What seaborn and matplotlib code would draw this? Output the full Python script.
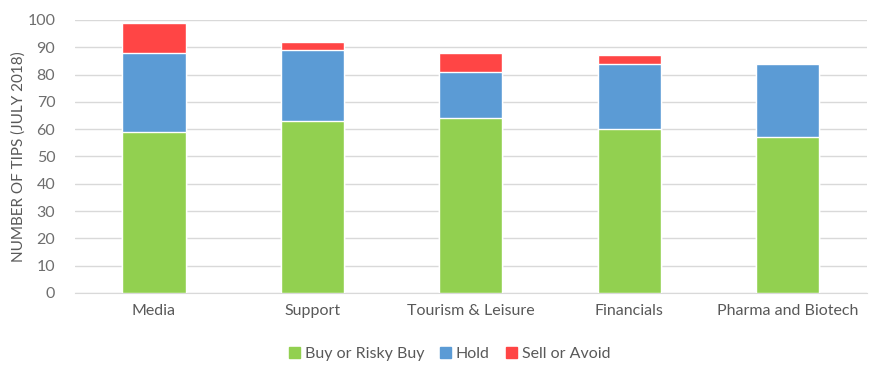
import numpy as np
import pandas as pd
import seaborn as sns
import matplotlib.pyplot as plt
from matplotlib.patches import Patch

# Data
sectors = ['Media', 'Support', 'Tourism & Leisure', 'Financials', 'Pharma and Biotech']
buy = [59, 63, 64, 60, 57]
hold = [29, 26, 17, 24, 27]
sell = [11, 3, 7, 3, 0]

green = '#92D050'
blue = '#5B9BD5'
red = '#FF4545'
grey = '#595959'

sns.set_style('white')
plt.rcParams['font.family'] = ['Lato', 'DejaVu Sans']

df = pd.DataFrame({'sector': sectors, 'buy': buy, 'hold': hold, 'sell': sell})
df['buy_hold'] = df['buy'] + df['hold']
df['total'] = df['buy_hold'] + df['sell']

fig = plt.figure(figsize=(8.9, 3.77), dpi=100)
ax = fig.add_axes([0.084, 0.223, 0.89, 0.724])

# stacked bars drawn from top of stack down
sns.barplot(data=df, x='sector', y='total', color=red, width=0.4, saturation=1, ax=ax, zorder=2)
sns.barplot(data=df, x='sector', y='buy_hold', color=blue, width=0.4, saturation=1, ax=ax, zorder=3)
sns.barplot(data=df, x='sector', y='buy', color=green, width=0.4, saturation=1, ax=ax, zorder=4)

ax.set_ylim(0, 100)
ax.set_yticks(np.arange(0, 101, 10))
ax.set_xlim(-0.5, len(sectors) - 0.5)
ax.yaxis.grid(True, color='#D9D9D9', linewidth=1)
ax.set_axisbelow(True)
for s in ['top', 'right', 'left']:
    ax.spines[s].set_visible(False)
ax.spines['bottom'].set_color('#D9D9D9')

ax.set_xlabel('')
ax.set_ylabel('NUMBER OF TIPS (JULY 2018)', color=grey, fontsize=11)
ax.yaxis.set_label_coords(-0.062, 0.5)
ax.tick_params(axis='both', colors=grey, labelsize=11.5, length=0)
ax.tick_params(axis='y', pad=14, colors='#6E6E6E')
ax.tick_params(axis='x', pad=8)

handles = [Patch(color=green, label='Buy or Risky Buy'),
           Patch(color=blue, label='Hold'),
           Patch(color=red, label='Sell or Avoid')]
leg = fig.legend(handles=handles, loc='center', bbox_to_anchor=(0.505, 0.06), ncol=3,
                 frameon=False, fontsize=11.5, handlelength=0.7, handleheight=0.7,
                 handletextpad=0.3, columnspacing=1.0)
for t in leg.get_texts():
    t.set_color(grey)

fig.savefig('out.png', dpi=100)
